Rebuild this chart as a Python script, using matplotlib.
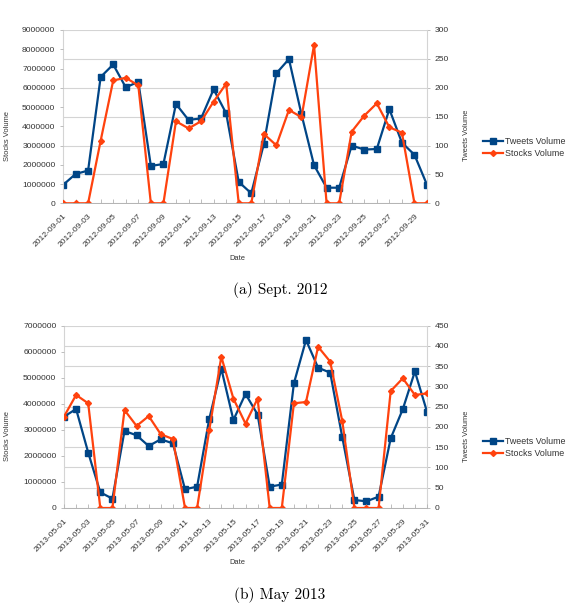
import matplotlib
matplotlib.use('Agg')
import matplotlib.pyplot as plt

plt.rcParams['font.family'] = ['Liberation Sans', 'DejaVu Sans']

# Sept. 2012 (days 1..30)
sept_days = list(range(1, 31))
sept_tweets = [31.7, 50.7, 56.7, 218.7, 240.3, 200.7, 210.3, 64.7, 68, 172,
               144.3, 147, 197.3, 155.7, 37, 17.3, 102.7, 225, 249.7, 154,
               66, 27, 27, 100, 93, 94, 163, 105, 84, 32]
sept_stocks = [0, 0, 0, 3250000, 6380000, 6520000, 6120000, 0, 0, 4260000,
               3890000, 4260000, 5280000, 6210000, 0, 0, 3600000, 3010000, 4850000, 4470000,
               8220000, 0, 0, 3720000, 4550000, 5190000, 3950000, 3670000, 0, 0]

# May 2013 (days 1..31)
may_days = list(range(1, 32))
may_tweets = [225.6, 244.3, 136.9, 38.6, 23.1, 190.3, 179.4, 153, 169.7, 159.4,
              46.3, 52.7, 219.2, 343.9, 217.3, 281.6, 230.8, 52.7, 57.9, 307.7,
              414.6, 346.3, 334, 174.4, 19.7, 16.5, 28, 172, 244, 337, 237.7]
may_stocks = [3510000, 4340000, 4020000, 0, 0, 3760000, 3150000, 3530000, 2830000, 2650000,
              0, 0, 2980000, 5810000, 4200000, 3240000, 4200000, 0, 0, 4020000,
              4070000, 6190000, 5620000, 3330000, 0, 0, 0, 4490000, 4980000, 4340000, 4400000]

W, H = 570, 605
blue = '#004586'
red = '#ff420e'
grid_c = '#d4d4d4'
txt_c = '#333333'


def fx(px):
    return px / W


def fy(py):
    return 1 - py / H


def draw_panel(fig, box, days, tweets, stocks, prefix, s_max, s_step, t_max, t_step,
               date_y, caption, cap_y, leg_y):
    x0, y0, x1, y1 = box
    ax = fig.add_axes([fx(x0), fy(y1), fx(x1 - x0), (y1 - y0) / H])
    ax2 = ax.twinx()
    # stocks on the left axis, drawn above the tweets line
    ax.set_zorder(ax2.get_zorder() + 1)
    ax.patch.set_visible(False)

    l2, = ax2.plot(days, tweets, color=blue, lw=1.6, marker='s', ms=4.5,
                   label='Tweets Volume')
    l1, = ax.plot(days, stocks, color=red, lw=1.6, marker='D', ms=3,
                  label='Stocks Volume')

    ax.set_xlim(days[0], days[-1])
    ax.set_ylim(0, s_max)
    ax2.set_ylim(0, t_max)
    ax.set_yticks(range(0, s_max + 1, s_step))
    ax.set_yticklabels([str(v) for v in range(0, s_max + 1, s_step)])
    ax2.set_yticks(range(0, t_max + 1, t_step))
    ax2.grid(axis='y', color=grid_c, lw=0.8)
    ax2.set_axisbelow(True)

    ax.set_xticks(days)
    ax.set_xticklabels([f'{prefix}{d:02d}' if d % 2 == 1 else '' for d in days],
                       rotation=45, ha='right', va='top', rotation_mode='anchor')

    for a in (ax, ax2):
        a.tick_params(labelsize=6.1, labelcolor=txt_c, color='#b3b3b3',
                      length=2.5, width=0.6, pad=3)
        for s in a.spines.values():
            s.set_visible(False)
    ax.tick_params(axis='x', direction='in', length=3, pad=7)
    ax.spines['bottom'].set_visible(True)
    ax.spines['bottom'].set_color('#b3b3b3')
    ax.spines['bottom'].set_linewidth(0.7)
    ax2.spines['left'].set_visible(True)
    ax2.spines['left'].set_color(grid_c)
    ax2.spines['right'].set_visible(True)
    ax2.spines['right'].set_color(grid_c)

    fig.text(fx(8), fy(y0 + (y1 - y0) / 2 + 19), 'Stocks Volume', rotation=90,
             ha='center', va='center', fontsize=5.4, color=txt_c)
    fig.text(fx(466), fy(y0 + (y1 - y0) / 2 + 19), 'Tweets Volume', rotation=90,
             ha='center', va='center', fontsize=5.4, color=txt_c)
    fig.text(fx(237), fy(date_y), 'Date', ha='center', va='center',
             fontsize=5.4, color=txt_c)
    fig.text(fx(280), fy(cap_y), caption, ha='center', va='center',
             fontsize=11, family=['cmr10', 'DejaVu Serif'])

    fig.legend([l2, l1], ['Tweets Volume', 'Stocks Volume'], loc='center left',
               bbox_to_anchor=(fx(483), fy(leg_y)), frameon=False, fontsize=6.4,
               handlelength=2.3, handletextpad=0.2, labelspacing=0.35,
               borderpad=0, borderaxespad=0, labelcolor=txt_c)


fig = plt.figure(figsize=(W / 100, H / 100), dpi=100)

draw_panel(fig, (63, 30, 427, 203.3), sept_days, sept_tweets, sept_stocks, '2012-09-',
           9000000, 1000000, 300, 50, 258, '(a) Sept. 2012', 290, 147.5)
draw_panel(fig, (64, 325.7, 427, 508), may_days, may_tweets, may_stocks, '2013-05-',
           7000000, 1000000, 450, 50, 563, '(b) May 2013', 595, 447.5)

fig.savefig('out.png', dpi=100)
